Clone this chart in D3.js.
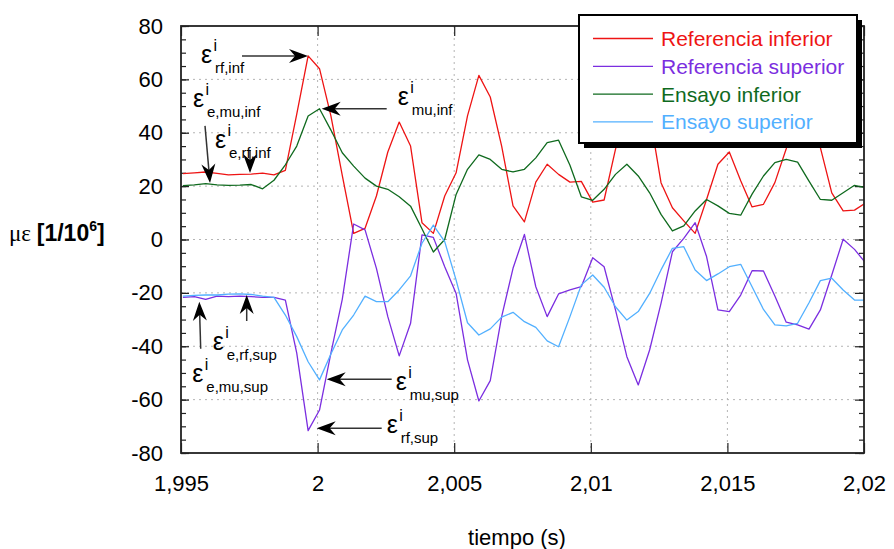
<!DOCTYPE html>
<html>
<head>
<meta charset="utf-8">
<script src="https://cdn.jsdelivr.net/npm/d3@7"></script>
<style>
  body { margin: 0; background: #fff; }
  svg { font-family: Arial, "Liberation Sans", sans-serif; }
</style>
</head>
<body>
<div id="chart"></div>
<script>
// muestras (s)
var tiempo = [1.995070, 1.995487, 1.995903, 1.996320, 1.996737, 1.997153, 1.997570, 1.997987, 1.998403, 1.998820,
              1.999237, 1.999653, 2.000070, 2.000487, 2.000903, 2.001320, 2.001737, 2.002153, 2.002570, 2.002987,
              2.003403, 2.003820, 2.004237, 2.004653, 2.005070, 2.005487, 2.005903, 2.006320, 2.006737, 2.007153,
              2.007570, 2.007987, 2.008403, 2.008820, 2.009237, 2.009653, 2.010070, 2.010487, 2.010903, 2.011320,
              2.011737, 2.012153, 2.012570, 2.012987, 2.013403, 2.013820, 2.014237, 2.014653, 2.015070, 2.015487,
              2.015903, 2.016320, 2.016737, 2.017153, 2.017570, 2.017987, 2.018403, 2.018820, 2.019237, 2.019653,
              2.020070];

var refInf = [24.7, 25, 25.3, 24.8, 24.2, 24.4, 24.5, 24.9, 24.2, 25.9,
              47, 68.8, 64, 46.3, 24, 2.3, 4.2, 16.3, 32.8, 44,
              35, 6.3, 2.3, 16.3, 25, 46.3, 61.5, 53.4, 35, 12.6,
              6.6, 21.5, 28.2, 24.4, 21.5, 21.8, 14, 14.8, 33.8, 50,
              54, 47, 21.3, 11.9, 7, 2.3, 15, 28.2, 32.8, 22,
              12.2, 13.2, 21.3, 34, 48, 46, 34.4, 17.5, 10.7, 11,
              13.8];

var refSup = [-21.7, -21.4, -22.4, -21.2, -21.4, -21.2, -21.4, -21.7, -21.7, -22.7,
              -42.6, -71.6, -63.9, -42.6, -22.4, 5.8, 3.6, -10.8, -28.9, -43.6,
              -31.4, 1.7, 0.8, -10.2, -20.2, -45.1, -60.5, -52.9, -28.9, -10.8,
              1.9, -17.7, -28.9, -20.4, -18.9, -17.7, -6.8, -10.2, -26.4, -43.9,
              -54.5, -41.4, -23.9, -4.6, 0.4, 6.3, -6.4, -26.4, -27, -20.8,
              -11.7, -11.8, -21.2, -31, -32, -33.6, -26.4, -13.3, 0.1, -3.7,
              -8.9];

var ensInf = [20.2, 20.5, 20.9, 20.5, 20.3, 20.4, 20.6, 19, 22.2, 28,
              35, 46.3, 49, 41, 32.5, 27.5, 23, 20, 18.8, 16,
              12.5, 4, -4.7, 0, 16.9, 26.3, 31.7, 30, 26.3, 25.3,
              26.3, 30.6, 36.3, 37.2, 27.8, 16, 14.7, 18.8, 24.4, 28.2,
              23.8, 17.5, 9.4, 3.2, 5.1, 10.7, 15, 12.6, 9.8, 9.1,
              17, 23.8, 28.8, 30, 29, 21.9, 15, 14.7, 17.5, 20.3,
              19.4];

var ensSup = [-21.2, -20.9, -20.8, -20.8, -20.5, -20.4, -20.6, -21.2, -21.7, -28.3,
              -36.4, -45.8, -52.6, -42.9, -33.9, -28.3, -21.2, -23.3, -23.3, -18.9,
              -13.6, -1.4, 5.4, -0.8, -15.2, -31.2, -35.8, -33.5, -29.1, -27.3,
              -30.8, -32.9, -38, -40.2, -28.9, -17, -13.3, -17.9, -25.2, -30.2,
              -27, -20.2, -11.4, -3.3, -2.7, -11.4, -15.4, -12.9, -10.2, -9.3,
              -17.7, -26.2, -32, -32.4, -31.4, -23.7, -15.4, -14.5, -18.9, -22.7,
              -22.7];

var nombres = ["Referencia inferior", "Referencia superior", "Ensayo inferior", "Ensayo superior"];
var colores = ["#ee1414", "#7b2ee0", "#0f6a1e", "#52b0ff"];

var xTicks = [1.995, 2, 2.005, 2.01, 2.015, 2.02];
var xTickLabels = ["1,995", "2", "2,005", "2,01", "2,015", "2,02"];
var yTicks = [-80, -60, -40, -20, 0, 20, 40, 60, 80];
var yMinor = d3.range(-80, 81, 5);

// flechas de las anotaciones: punta en unidades de datos
var notas = [
  {sub: "rf,inf",     t: 1.999649, v: 68.8,  dx: -66, dy: 0,    lx: -107, ly: 7.5},
  {sub: "e,mu,inf",   t: 1.996062, v: 21.2,  dx: -5,  dy: -57,  lx: -17,  ly: -76},
  {sub: "e,rf,inf",   t: 1.997526, v: 24.9,  dx: 0,   dy: -23,  lx: -35,  ly: -25},
  {sub: "mu,inf",     t: 2.000150, v: 49.0,  dx: 65,  dy: 0,    lx: 76,   ly: -4},
  {sub: "e,rf,sup",   t: 1.997405, v: -20.8, dx: 0,   dy: 26,   lx: -34,  ly: 55},
  {sub: "e,mu,sup",   t: 1.995670, v: -23.3, dx: 1.4, dy: 47,   lx: -7,   ly: 80},
  {sub: "mu,sup",     t: 2.000333, v: -52.4, dx: 65,  dy: 0,    lx: 69,   ly: 11},
  {sub: "rf,sup",     t: 1.999967, v: -70.7, dx: 65,  dy: 0,    lx: 70,   ly: 5}
];

var W = 894, H = 549;
var margin = {top: 26, right: 30, bottom: 96, left: 181};
var width = W - margin.left - margin.right;
var height = H - margin.top - margin.bottom;

var svg = d3.select("#chart").append("svg")
    .attr("width", W)
    .attr("height", H);

var g = svg.append("g")
    .attr("transform", "translate(" + margin.left + "," + margin.top + ")");

var x = d3.scaleLinear().domain([1.995, 2.02]).range([0, width]);
var y = d3.scaleLinear().domain([-80, 80]).range([height, 0]);

// rejilla punteada
g.selectAll(".gx").data(xTicks.slice(1, -1)).enter()
  .append("line")
  .attr("x1", function(d) { return x(d); })
  .attr("x2", function(d) { return x(d); })
  .attr("y1", 0).attr("y2", height)
  .style("stroke", "#b4b4b4").style("stroke-dasharray", "2,4");

g.selectAll(".gy").data(yTicks.slice(1, -1)).enter()
  .append("line")
  .attr("y1", function(d) { return y(d); })
  .attr("y2", function(d) { return y(d); })
  .attr("x1", 0).attr("x2", width)
  .style("stroke", "#b4b4b4").style("stroke-dasharray", "2,4");

// ejes
function estilo(sel) {
  sel.select(".domain").remove();
  sel.selectAll(".tick line").style("stroke", "#222").style("stroke-width", 1.2);
  sel.selectAll(".tick text").style("font-size", "22px").style("fill", "#000")
     .style("font-family", "Arial, 'Liberation Sans', sans-serif");
}

g.append("g").call(d3.axisLeft(y).tickValues(yMinor).tickSize(-5).tickFormat("")).call(estilo);
g.append("g").call(d3.axisLeft(y).tickValues(yTicks).tickSize(-8).tickPadding(18)
    .tickFormat(function(d) { return d; })).call(estilo);
g.append("g").attr("transform", "translate(" + width + ",0)")
  .call(d3.axisRight(y).tickValues(yMinor).tickSize(-5).tickFormat("")).call(estilo);
g.append("g").attr("transform", "translate(" + width + ",0)")
  .call(d3.axisRight(y).tickValues(yTicks).tickSize(-9).tickFormat("")).call(estilo);
g.append("g").attr("transform", "translate(0," + height + ")")
  .call(d3.axisBottom(x).tickValues(xTicks).tickSize(-10).tickPadding(22)
    .tickFormat(function(d, i) { return xTickLabels[i]; })).call(estilo);
g.append("g")
  .call(d3.axisTop(x).tickValues(xTicks).tickSize(-10).tickFormat("")).call(estilo);

// curvas
g.append("clipPath").attr("id", "clip")
  .append("rect").attr("width", width).attr("height", height);

var series = [refInf, refSup, ensInf, ensSup];
var linea = d3.line()
    .x(function(d, i) { return x(tiempo[i]); })
    .y(function(d) { return y(d); });

g.append("g").attr("clip-path", "url(#clip)")
  .selectAll("path").data(series).enter()
  .append("path")
  .attr("d", linea)
  .style("fill", "none")
  .style("stroke", function(d, i) { return colores[i]; })
  .style("stroke-width", 1.3)
  .style("stroke-linejoin", "round");

// marco
g.append("rect")
  .attr("width", width).attr("height", height)
  .style("fill", "none").style("stroke", "#222").style("stroke-width", 1.8);

// anotaciones
notas.forEach(function(n) {
  var tx = x(n.t), ty = y(n.v);
  var sx = tx + n.dx, sy = ty + n.dy;
  var ang = Math.atan2(ty - sy, tx - sx);
  g.append("line")
    .attr("x1", sx).attr("y1", sy)
    .attr("x2", tx - Math.cos(ang) * 12).attr("y2", ty - Math.sin(ang) * 12)
    .style("stroke", "#333").style("stroke-width", 1.5);
  g.append("path")
    .attr("d", "M0,0 L-19,-7 L-13,0 L-19,7 Z")
    .attr("transform", "translate(" + tx + "," + ty + ") rotate(" + (ang * 180 / Math.PI) + ")")
    .style("fill", "#000");
  var lx = tx + n.lx, ly = ty + n.ly;
  g.append("text").attr("x", lx).attr("y", ly)
    .style("font-size", "25px").text("ε");
  g.append("text").attr("x", lx + 12.5).attr("y", ly - 12)
    .style("font-size", "16px").text("i");
  g.append("text").attr("x", lx + 14).attr("y", ly + 10)
    .style("font-size", "15px").text(n.sub);
});

// leyenda
var leg = svg.append("g").attr("transform", "translate(579,15)");
leg.append("rect").attr("x", 5).attr("y", 5).attr("width", 278).attr("height", 128)
  .style("fill", "#000");
leg.append("rect").attr("width", 278).attr("height", 128)
  .style("fill", "#fff").style("stroke", "#000").style("stroke-width", 2);
nombres.forEach(function(nm, i) {
  var cy = 23.5 + i * 27.8;
  leg.append("line").attr("x1", 14).attr("x2", 74).attr("y1", cy).attr("y2", cy)
    .style("stroke", colores[i]).style("stroke-width", 1.3);
  leg.append("text").attr("x", 82).attr("y", cy + 7.5)
    .style("font-size", "21px").style("fill", colores[i]).text(nm);
});

// títulos de los ejes
svg.append("text")
  .attr("x", 517).attr("y", 545)
  .attr("text-anchor", "middle")
  .style("font-size", "22px")
  .text("tiempo (s)");

var yt = svg.append("text").attr("x", 9).attr("y", 241).style("font-size", "23px");
yt.append("tspan").style("font-family", "'Liberation Serif', 'Times New Roman', serif").text("με ");
yt.append("tspan").style("font-weight", "bold").text("[1/10");
yt.append("tspan").style("font-weight", "bold").style("font-size", "14px").attr("dy", -10).text("6");
yt.append("tspan").style("font-weight", "bold").attr("dy", 10).text("]");
</script>
</body>
</html>
